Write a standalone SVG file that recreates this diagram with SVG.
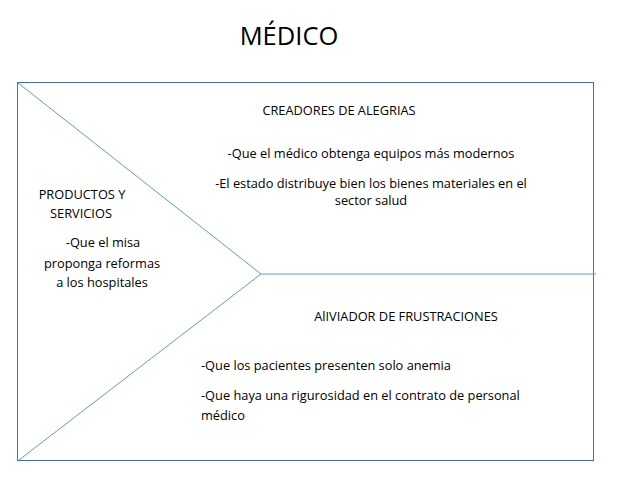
<svg xmlns="http://www.w3.org/2000/svg" width="624" height="484" viewBox="0 0 624 484">
<style>
text{font-family:"Open Sans","Liberation Sans",sans-serif;fill:#000;font-size:12.8px}
.c{text-anchor:middle}
.t{font-size:25.5px}
.ln{stroke:#5b9bd5;fill:none;stroke-width:1}
</style>
<rect width="624" height="484" fill="#fff"/>
<text class="t c" x="289" y="45">MÉDICO</text>
<g id="frame"><rect x="17.5" y="82.5" width="576" height="378" fill="none" stroke="#41719c" stroke-width="1"/></g>
<g id="connectors">
<polyline class="ln" points="17.5,82.5 261,274 19,460"/>
<line class="ln" x1="261" y1="274" x2="596" y2="274" stroke-width="2"/>
</g>
<g id="creadores">
<text class="c" x="339" y="115">CREADORES DE ALEGRIAS</text>
<text class="c" x="371" y="158">-Que el médico obtenga equipos más modernos</text>
<text class="c" x="371" y="188">-El estado distribuye bien los bienes materiales en el</text>
<text class="c" x="371" y="205">sector salud</text>
</g>
<g id="productos">
<text class="c" x="82" y="199">PRODUCTOS Y</text>
<text class="c" x="81" y="218">SERVICIOS</text>
<text class="c" x="103" y="247">-Que el misa</text>
<text class="c" x="102" y="268">proponga reformas</text>
<text class="c" x="102" y="287">a los hospitales</text>
</g>
<g id="aliviador">
<text class="c" x="406" y="321">AlIVIADOR DE FRUSTRACIONES</text>
<text x="201" y="370">-Que los pacientes presenten solo anemia</text>
<text x="201" y="400">-Que haya una rigurosidad en el contrato de personal</text>
<text x="201" y="420">médico</text>
</g>
</svg>
